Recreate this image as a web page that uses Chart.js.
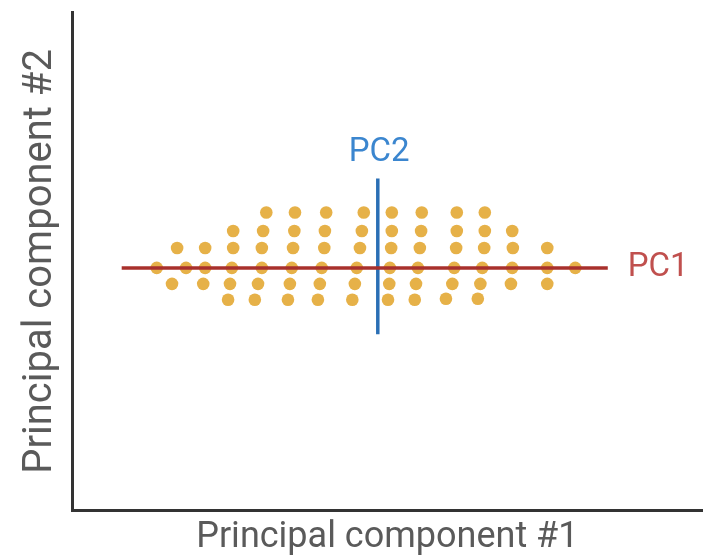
<!DOCTYPE html>
<html>
<head>
<meta charset="utf-8">
<script src="https://cdn.jsdelivr.net/npm/chart.js@4/dist/chart.umd.min.js"></script>
<style>
html,body{margin:0;padding:0;background:#fff;}
#wrap{width:709px;height:560px;position:relative;}
</style>
</head>
<body>
<div id="wrap"><canvas id="c"></canvas></div>
<script>
const pointsX = [
  13.3,
  16.5, 15.7,
  17.9,
  20.9, 20.9, 20.6,
  25.3, 25.3, 25.1, 24.8, 24.5,
  30.5, 30.0, 29.8, 29.8, 29.2, 28.7,
  35.0, 34.9, 34.7, 34.5, 34.2, 33.9,
  39.9, 39.7, 39.6, 39.2, 38.9, 38.6,
  45.8, 45.5, 45.2, 44.7, 44.4, 44.0,
  50.2, 50.2, 50.1, 49.9, 49.8, 49.6,
  54.9, 54.8, 54.6, 54.3, 54.0, 53.8,
  60.4, 60.4, 60.3, 60.0, 59.7, 58.7,
  64.8, 64.8, 64.7, 64.4, 64.1, 63.7,
  69.1, 69.2, 69.1, 68.9,
  74.6, 74.6, 74.6,
  79.0
];
const pointsY = [
  48.7,
  52.7, 45.5,
  48.7,
  52.7, 48.7, 45.5,
  56.1, 52.7, 48.7, 45.5, 42.3,
  59.8, 56.1, 52.7, 48.7, 45.5, 42.3,
  59.8, 56.1, 52.7, 48.7, 45.5, 42.3,
  59.8, 56.1, 52.7, 48.7, 45.5, 42.3,
  59.8, 56.1, 52.7, 48.7, 45.5, 42.3,
  59.8, 56.1, 52.7, 48.7, 45.5, 42.3,
  59.8, 56.1, 52.7, 48.7, 45.5, 42.3,
  59.8, 56.1, 52.7, 48.7, 45.5, 42.5,
  59.8, 56.1, 52.7, 48.7, 45.5, 42.5,
  56.1, 52.7, 48.7, 45.5,
  52.7, 48.7, 45.5,
  48.7
];
// Principal component axes
const pc1X = [7.8, 84.1];
const pc1Y = [48.7, 48.7];
const pc2X = [48.0, 48.0];
const pc2Y = [66.6, 35.4];
const pcLabels = ['PC1', 'PC2'];
const labelPosX = [92.0, 48.2];
const labelPosY = [48.7, 71.8];
const axisTitles = ['Principal component #1', 'Principal component #2'];

const pts = pointsX.map((x, i) => ({x: x, y: pointsY[i]}));
const pc1 = pc1X.map((x, i) => ({x: x, y: pc1Y[i]}));
const pc2 = pc2X.map((x, i) => ({x: x, y: pc2Y[i]}));

const labelPlugin = {
  id: 'pcLabels',
  afterDatasetsDraw(chart) {
    const ctx = chart.ctx, xs = chart.scales.x, ys = chart.scales.y;
    ctx.save();
    ctx.font = '33px Roboto';
    ctx.textAlign = 'center';
    ctx.textBaseline = 'middle';
    const colors = ['#c0504e', '#3b86cf'];
    pcLabels.forEach((t, i) => {
      ctx.fillStyle = colors[i];
      ctx.fillText(t, xs.getPixelForValue(labelPosX[i]), ys.getPixelForValue(labelPosY[i]));
    });
    ctx.restore();
  }
};

new Chart(document.getElementById('c'), {
  type: 'scatter',
  data: {
    datasets: [
      {
        label: 'PC1', type: 'line', data: pc1, order: 1,
        borderColor: '#a8302c', borderWidth: 3.5, pointRadius: 0, fill: false
      },
      {
        label: 'PC2', type: 'line', data: pc2, order: 1,
        borderColor: '#2a6fb5', borderWidth: 3.5, pointRadius: 0, fill: false
      },
      {
        label: 'Observations', data: pts, order: 2,
        backgroundColor: 'rgba(228,170,56,0.92)', borderWidth: 0,
        pointRadius: 6.3, pointHoverRadius: 6.3
      }
    ]
  },
  options: {
    responsive: true,
    maintainAspectRatio: false,
    animation: false,
    events: [],
    layout: {padding: {left: 17, top: 12, right: 0, bottom: 0}},
    plugins: {legend: {display: false}, tooltip: {enabled: false}},
    scales: {
      x: {
        type: 'linear', min: 0, max: 99,
        grid: {display: false, drawTicks: false},
        border: {display: true, color: '#333', width: 3},
        ticks: {display: false},
        title: {display: true, text: axisTitles[0], color: '#5a5a5a', font: {family: 'Roboto', size: 36}, padding: {top: 6, bottom: 0}}
      },
      y: {
        type: 'linear', min: 0, max: 100,
        grid: {display: false, drawTicks: false},
        border: {display: true, color: '#333', width: 3},
        ticks: {display: false},
        title: {display: true, text: axisTitles[1], color: '#5a5a5a', font: {family: 'Roboto', size: 40}, padding: {top: 0, bottom: 7}}
      }
    }
  },
  plugins: [labelPlugin]
});
</script>
</body>
</html>
